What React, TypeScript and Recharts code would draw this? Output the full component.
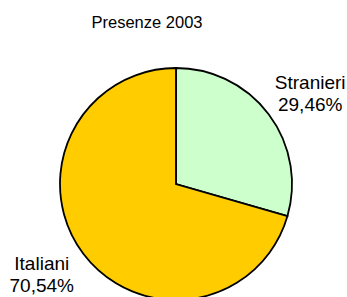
import React from "react";
import { PieChart, Pie, Cell } from "recharts";

const categories = ["Stranieri", "Italiani"];
const values = [29.46, 70.54];
const colors = ["#CCFFCC", "#FFCC00"];
const title = "Presenze 2003";

const data = categories.map((name, i) => ({ name, value: values[i] }));

const FONT = "Arial, 'Liberation Sans', sans-serif";
const RAD = Math.PI / 180;

const renderLabel = (props: any) => {
  const { cx, cy, midAngle, outerRadius, name, value } = props;
  const c = Math.cos(midAngle * RAD);
  const s = Math.sin(midAngle * RAD);
  const r = outerRadius + 16;
  const ax = cx + r * c;
  const ay = cy - r * s;
  const bx = ax + c * 36;
  const by = ay - s * 18.5;
  const pct = Number(value).toFixed(2).replace(".", ",") + "%";
  return (
    <g>
      <text x={bx} y={by - 4.5} textAnchor="middle" fontSize={19} fontFamily={FONT} fill="#000">
        {name}
      </text>
      <text x={bx} y={by + 17.5} textAnchor="middle" fontSize={19} fontFamily={FONT} fill="#000">
        {pct}
      </text>
    </g>
  );
};

export default function App() {
  return (
    <div style={{ position: "absolute", left: 0, top: 0, width: 347, height: 297, background: "#fff" }}>
      <PieChart width={347} height={297} margin={{ top: 0, right: 0, bottom: 0, left: 0 }}>
        <text x={147} y={28} textAnchor="middle" fontSize={16.5} fontFamily={FONT} fill="#000">
          {title}
        </text>
        <Pie
          data={data}
          dataKey="value"
          nameKey="name"
          cx={176}
          cy={184}
          outerRadius={116}
          startAngle={90}
          endAngle={-270}
          stroke="#000"
          strokeWidth={1.8}
          label={renderLabel}
          labelLine={false}
          isAnimationActive={false}
        >
          {data.map((d, i) => (
            <Cell key={d.name} fill={colors[i]} />
          ))}
        </Pie>
      </PieChart>
    </div>
  );
}
